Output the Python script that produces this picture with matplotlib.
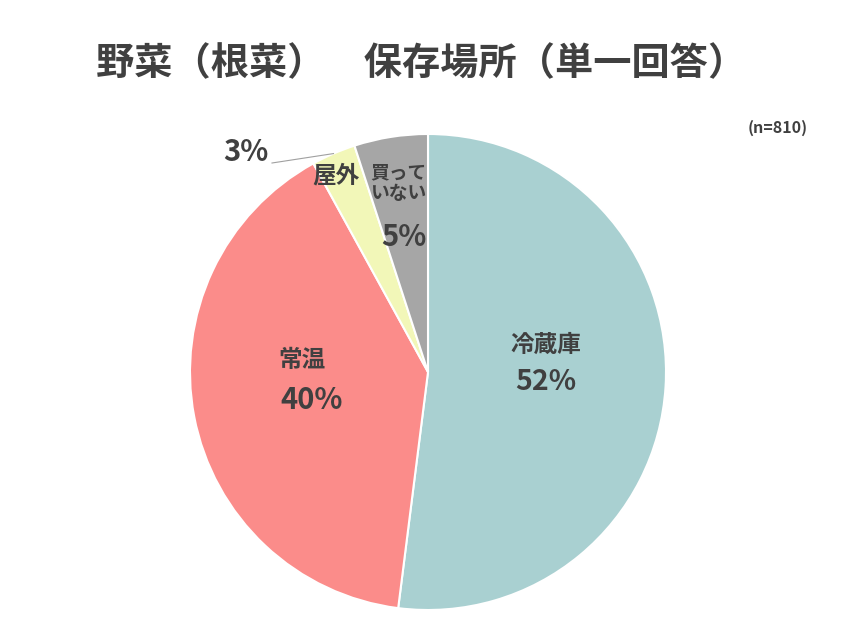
import matplotlib
matplotlib.use('Agg')
import matplotlib.pyplot as plt
import numpy as np

plt.rcParams['font.family'] = ['Noto Sans CJK JP', 'DejaVu Sans']

categories = ['冷蔵庫', '常温', '屋外', '買って\nいない']
values = [52, 40, 3, 5]
pct_labels = ['52%', '40%', '3%', '5%']
colors = ['#a9d0d1', '#fb8c8a', '#f2f7b8', '#a6a6a6']
text_color = '#404040'

W, H = 853, 640
fig = plt.figure(figsize=(W / 100, H / 100), dpi=100)

# pie centre and radius in pixels
cx, cy, R = 428, 372, 238
ax = fig.add_axes([(cx - R) / W, (H - cy - R) / H, 2 * R / W, 2 * R / H])
wedges, _ = ax.pie(values, colors=colors, startangle=90, counterclock=False,
                   radius=1, wedgeprops=dict(edgecolor='white', linewidth=1.5))
ax.set_xlim(-1, 1)
ax.set_ylim(-1, 1)
ax.set_aspect('auto')
ax.axis('off')

def px(x, y):
    # pixel -> pie data coords
    return (x - cx) / R, (cy - y) / R

# name label positions / pct positions (pixels)
name_pos = [(546, 345), (302, 360), (336, 175), (398, 183)]
name_size = [17, 17, 17, 13.5]
pct_pos = [(546, 382), (312, 400), (246, 152), (404, 237)]
pct_size = [20.5, 21, 21, 21]

for i in range(len(categories)):
    x, y = px(*name_pos[i])
    ax.text(x, y, categories[i], ha='center', va='center', fontsize=name_size[i],
            fontweight='bold', color=text_color, linespacing=1.15)
    x, y = px(*pct_pos[i])
    ax.text(x, y, pct_labels[i], ha='center', va='center', fontsize=pct_size[i],
            fontweight='bold', color=text_color)

# leader line for the small slice
w = wedges[2]
mid = np.deg2rad((w.theta1 + w.theta2) / 2)
x0, y0 = px(272, 163)
ax.plot([x0, np.cos(mid)], [y0, np.sin(mid)], color='#a0a0a0', lw=0.8, clip_on=False)

fig.text(421 / W, 1 - 64 / H, '野菜（根菜）　保存場所（単一回答）', ha='center', va='center',
         fontsize=27.5, fontweight='bold', color=text_color)
fig.text(778 / W, 1 - 128 / H, '(n=810)', ha='center', va='center',
         fontsize=11.5, fontweight='bold', color=text_color)

fig.savefig('out.png', dpi=100, facecolor='white')
